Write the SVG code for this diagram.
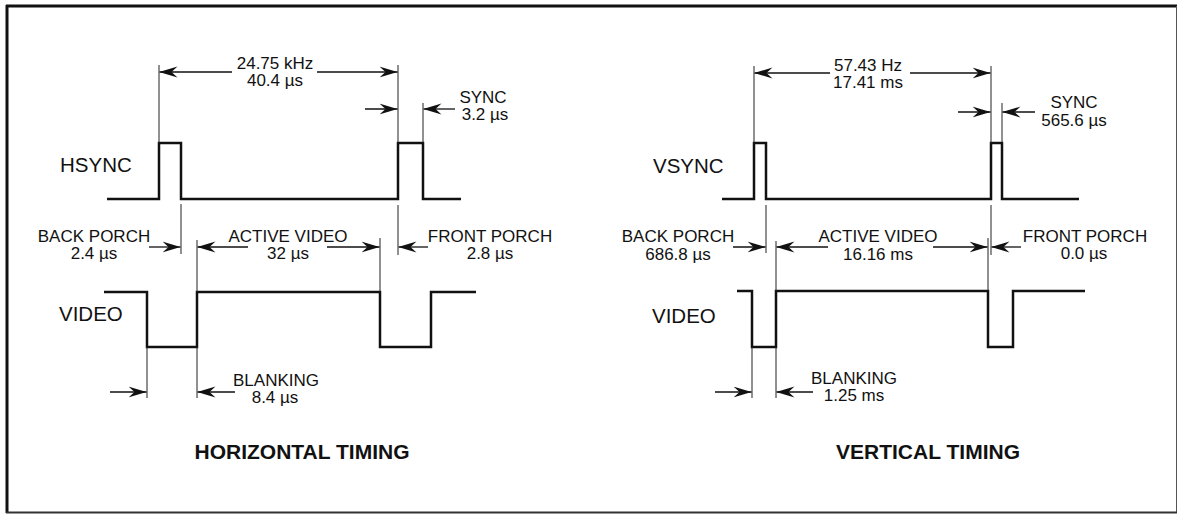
<svg xmlns="http://www.w3.org/2000/svg" width="1178" height="514" viewBox="0 0 1178 514">
<style>
.wave{fill:none;stroke:#111;stroke-width:2.5;stroke-linejoin:miter;stroke-linecap:butt}
.ext{stroke:#222;stroke-width:1}
.dim{stroke:#111;stroke-width:1.3;fill:none}
.lbl{font-family:"Liberation Sans",Arial,sans-serif;font-size:17px;fill:#111;text-anchor:middle}
.sig{font-family:"Liberation Sans",Arial,sans-serif;font-size:20.5px;fill:#111}
.ttl{font-family:"Liberation Sans",Arial,sans-serif;font-size:21px;font-weight:bold;fill:#111;text-anchor:middle}
</style>
<defs>
<marker id="ah" markerUnits="userSpaceOnUse" markerWidth="18" markerHeight="12" viewBox="0 0 18 12" refX="18" refY="6" orient="auto">
<path d="M18,6 L0,0.5 L6,6 L0,11.5 Z" fill="#111"/>
</marker>
</defs>
<rect width="1178" height="514" fill="#fff"/>
<g id="frame" stroke="#111" fill="none">
<line x1="7" y1="5" x2="7" y2="513" stroke-width="3"/>
<line x1="6" y1="6" x2="1177" y2="6" stroke-width="3"/>
<line x1="1176.5" y1="6" x2="1176.5" y2="513" stroke-width="1" stroke="#555"/>
<line x1="6" y1="512.5" x2="1177" y2="512.5" stroke-width="2" stroke="#333"/>
</g>

<g id="hsync">
<text class="sig" x="60" y="172">HSYNC</text>
<path class="wave" d="M107,199 H159 V143 H181 V199 H398 V143 H423 V199 H461"/>
</g>
<g id="hvideo">
<text class="sig" x="59" y="321">VIDEO</text>
<path class="wave" d="M104,292 H147 V347 H197 V292 H380 V347 H431 V292 H476"/>
</g>
<g id="h-period-label"><text class="lbl" x="275" y="69">24.75 kHz</text><text class="lbl" x="275" y="86">40.4 µs</text></g>
<g id="h-sync-label"><text class="lbl" x="483" y="103">SYNC</text><text class="lbl" x="485" y="120">3.2 µs</text></g>
<g id="h-back-label"><text class="lbl" x="94" y="242">BACK PORCH</text><text class="lbl" x="94" y="259">2.4 µs</text></g>
<g id="h-active-label"><text class="lbl" x="288" y="242">ACTIVE VIDEO</text><text class="lbl" x="288" y="259">32 µs</text></g>
<g id="h-front-label"><text class="lbl" x="490" y="242">FRONT PORCH</text><text class="lbl" x="490" y="259">2.8 µs</text></g>
<g id="h-blank-label"><text class="lbl" x="276" y="386">BLANKING</text><text class="lbl" x="275" y="403">8.4 µs</text></g>
<g id="h-title"><text class="ttl" x="302" y="459">HORIZONTAL TIMING</text></g>

<g id="vsync">
<text class="sig" x="653" y="173">VSYNC</text>
<path class="wave" d="M722,199 H754 V143 H766 V199 H991 V143 H1002 V199 H1079"/>
</g>
<g id="vvideo">
<text class="sig" x="652" y="323">VIDEO</text>
<path class="wave" d="M737,291 H752 V347 H776 V291 H988 V347 H1013 V291 H1085"/>
</g>
<g id="v-period-label"><text class="lbl" x="868" y="71">57.43 Hz</text><text class="lbl" x="868" y="88">17.41 ms</text></g>
<g id="v-sync-label"><text class="lbl" x="1074" y="108">SYNC</text><text class="lbl" x="1074" y="126">565.6 µs</text></g>
<g id="v-back-label"><text class="lbl" x="678" y="242">BACK PORCH</text><text class="lbl" x="678" y="260">686.8 µs</text></g>
<g id="v-active-label"><text class="lbl" x="878" y="242">ACTIVE VIDEO</text><text class="lbl" x="878" y="260">16.16 ms</text></g>
<g id="v-front-label"><text class="lbl" x="1085" y="242">FRONT PORCH</text><text class="lbl" x="1084" y="259">0.0 µs</text></g>
<g id="v-blank-label"><text class="lbl" x="854" y="384">BLANKING</text><text class="lbl" x="854" y="401">1.25 ms</text></g>
<g id="v-title"><text class="ttl" x="928" y="459">VERTICAL TIMING</text></g>

<g id="connectors">
<g id="extension-lines" class="ext">
<line x1="159" y1="65" x2="159" y2="143"/>
<line x1="398" y1="65" x2="398" y2="143"/>
<line x1="423" y1="103" x2="423" y2="143"/>
<line x1="181" y1="204" x2="181" y2="254"/>
<line x1="398" y1="205" x2="398" y2="255"/>
<line x1="197" y1="240" x2="197" y2="292"/>
<line x1="380" y1="238" x2="380" y2="292"/>
<line x1="147" y1="347" x2="147" y2="398"/>
<line x1="197" y1="347" x2="197" y2="398"/>

<line x1="754" y1="66" x2="754" y2="143"/>
<line x1="991" y1="66" x2="991" y2="143"/>
<line x1="1002" y1="103" x2="1002" y2="143"/>
<line x1="766" y1="205" x2="766" y2="253"/>
<line x1="991" y1="205" x2="991" y2="255"/>
<line x1="776" y1="241" x2="776" y2="291"/>
<line x1="988" y1="238" x2="988" y2="291"/>
<line x1="752" y1="347" x2="752" y2="398"/>
<line x1="776" y1="347" x2="776" y2="398"/>
</g>
<g id="dimension-arrows" class="dim">
<line x1="232" y1="72" x2="159.5" y2="72" marker-end="url(#ah)"/>
<line x1="317" y1="72" x2="397.5" y2="72" marker-end="url(#ah)"/>
<line x1="365" y1="109" x2="397.5" y2="109" marker-end="url(#ah)"/>
<line x1="455" y1="109" x2="423.5" y2="109" marker-end="url(#ah)"/>
<line x1="149" y1="247" x2="180.5" y2="247" marker-end="url(#ah)"/>
<line x1="248" y1="247" x2="197.5" y2="247" marker-end="url(#ah)"/>
<line x1="327" y1="247" x2="379.5" y2="247" marker-end="url(#ah)"/>
<line x1="428" y1="247" x2="398.5" y2="247" marker-end="url(#ah)"/>
<line x1="110" y1="392" x2="146.5" y2="392" marker-end="url(#ah)"/>
<line x1="235" y1="392" x2="197.5" y2="392" marker-end="url(#ah)"/>

<line x1="830" y1="73" x2="754.5" y2="73" marker-end="url(#ah)"/>
<line x1="910" y1="73" x2="990.5" y2="73" marker-end="url(#ah)"/>
<line x1="958" y1="112" x2="990.5" y2="112" marker-end="url(#ah)"/>
<line x1="1035" y1="112" x2="1002.5" y2="112" marker-end="url(#ah)"/>
<line x1="733" y1="247" x2="765.5" y2="247" marker-end="url(#ah)"/>
<line x1="828" y1="247" x2="776.5" y2="247" marker-end="url(#ah)"/>
<line x1="933" y1="247" x2="987.5" y2="247" marker-end="url(#ah)"/>
<line x1="1021" y1="247" x2="991.5" y2="247" marker-end="url(#ah)"/>
<line x1="715" y1="392" x2="751.5" y2="392" marker-end="url(#ah)"/>
<line x1="813" y1="392" x2="776.5" y2="392" marker-end="url(#ah)"/>
</g>
</g>
</svg>
